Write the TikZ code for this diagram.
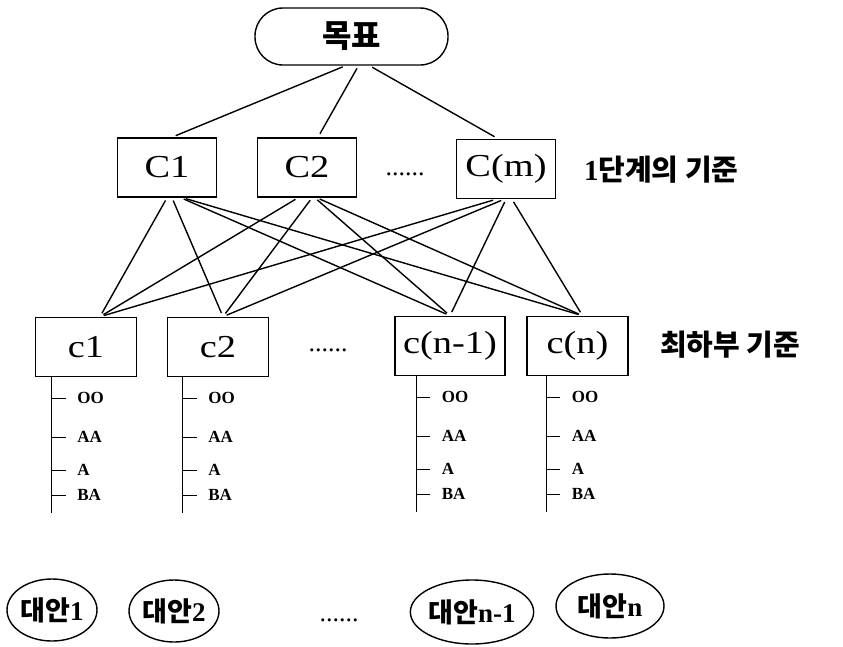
\documentclass[tikz,border=0pt]{standalone}
\usepackage{fontspec}
\setmainfont{Liberation Serif}
\newfontfamily\boxfont{Liberation Serif}[FakeStretch=1.2]
\newfontfamily\kr{Noto Sans CJK KR}
\usetikzlibrary{positioning,shapes.geometric}

\begin{document}
\begin{tikzpicture}[
    x=1pt, y=-1pt,
    line width=1.4pt,
    goal/.style={draw, rounded corners=28pt, minimum width=193pt, minimum height=57pt,
                 font=\kr\bfseries\fontsize{32}{32}\selectfont},               % Goal at the top
    crit/.style={draw, line width=1.6pt, minimum width=99pt, minimum height=59pt,
                 font=\boxfont\fontsize{32}{32}\selectfont},                   % Criteria boxes
    sub/.style={crit, minimum width=101pt},                                    % Lowest criteria boxes
    altern/.style={ellipse, draw, inner sep=0pt, minimum width=90pt, minimum height=62pt,
                 font=\kr\bfseries\fontsize{27}{27}\selectfont},               % Alternatives
    grade/.style={anchor=west, inner sep=0pt, font=\bfseries\fontsize{17}{17}\selectfont},
    tier/.style={anchor=west, font=\kr\bfseries\fontsize{29}{29}\selectfont},  % Level captions
    etc/.style={font=\fontsize{26}{26}\selectfont},                            % The dots
    link/.style={shorten <=3pt, shorten >=4pt}
    ]

    \useasboundingbox (0,0) rectangle (843,646);

    % Goal
    \node[goal] (goal) at (351.5,36.5) {목표};

    % Criteria of the first level
    \node[crit] (C1) at (167,167.5) {C1};
    \node[crit] (C2) at (307,167.5) {C2};
    \node[etc] (Cdots) at (405,174) {......};
    \node[crit] (Cm) at (506,169) {C(m)};
    \node[tier] (tier1) at (580,170) {{\rmfamily 1}단계의 기준};

    % Lowest level criteria
    \node[sub] (c1) at (86,347) {c1};
    \node[sub] (c2) at (218,347) {c2};
    \node[etc] (cdots) at (328,350) {......};
    \node[sub, minimum width=110pt] (cn1) at (450,346) {c(n-1)};
    \node[sub] (cn) at (577.5,346) {c(n)};
    \node[tier] (tier2) at (656,345) {최하부 기준};

    % Alternatives
    \node[altern] (a1) at (52,610) {대안{\rmfamily 1}};
    \node[altern] (a2) at (174,611) {대안{\rmfamily 2}};
    \node[etc] (adots) at (339,620) {......};
    \node[altern, minimum width=110pt, minimum height=64pt] (an1) at (472,612) {대안{\rmfamily n-1}};
    \node[altern, minimum width=108pt, minimum height=64pt] (an) at (610,606) {대안{\rmfamily n}};

    % Goal to the first level
    \draw[link] ([xshift=-6pt]goal.south) -- ([xshift=5pt]C1.north);
    \draw[link] ([xshift=7pt]goal.south) -- ([xshift=11pt]C2.north);
    \draw[link] ([xshift=18pt]goal.south) -- ([xshift=-8pt]Cm.north);

    % C1 to every lowest criterion
    \draw[link] (C1.south) -- ([xshift=14pt]c1.north);
    \draw[link] ([xshift=5pt]C1.south) -- ([xshift=5pt]c2.north);
    \draw[link] ([xshift=14pt]C1.south) -- (cn1.north);
    \draw[link] ([xshift=16pt]C1.south) -- ([xshift=5pt]cn.north);

    % C2 to every lowest criterion
    \draw[link] ([xshift=-9pt]C2.south) -- ([xshift=14pt]c1.north);
    \draw[link] ([xshift=5pt]C2.south) -- ([xshift=5pt]c2.north);
    \draw[link] ([xshift=8pt]C2.south) -- (cn1.north);
    \draw[link] ([xshift=10pt]C2.south) -- ([xshift=5pt]cn.north);

    % C(m) to every lowest criterion
    \draw[link] ([xshift=-10pt]Cm.south) -- ([xshift=14pt]c1.north);
    \draw[link] ([xshift=-2pt]Cm.south) -- ([xshift=5pt]c2.north);
    \draw[link] (Cm.south) -- (cn1.north);
    \draw[link] ([xshift=6pt]Cm.south) -- ([xshift=5pt]cn.north);

    % Rating scale under each lowest criterion
    \foreach \b/\off in {c1/17, c2/16, cn1/22, cn/20}{
        \coordinate (\b-top) at ([xshift=\off pt]\b.south west);
        \draw (\b-top) -- ++(0,136) coordinate (\b-end);
        \foreach \g/\dy [count=\i] in {OO/21, AA/60, A/93, BA/118}{
            \node[grade] (\b-\i) at ([xshift=25pt, yshift=-\dy pt]\b-top) {\g};
            \draw (\b-top |- \b-\i) -- ++(14,0);
        }
    }

\end{tikzpicture}
\end{document}
